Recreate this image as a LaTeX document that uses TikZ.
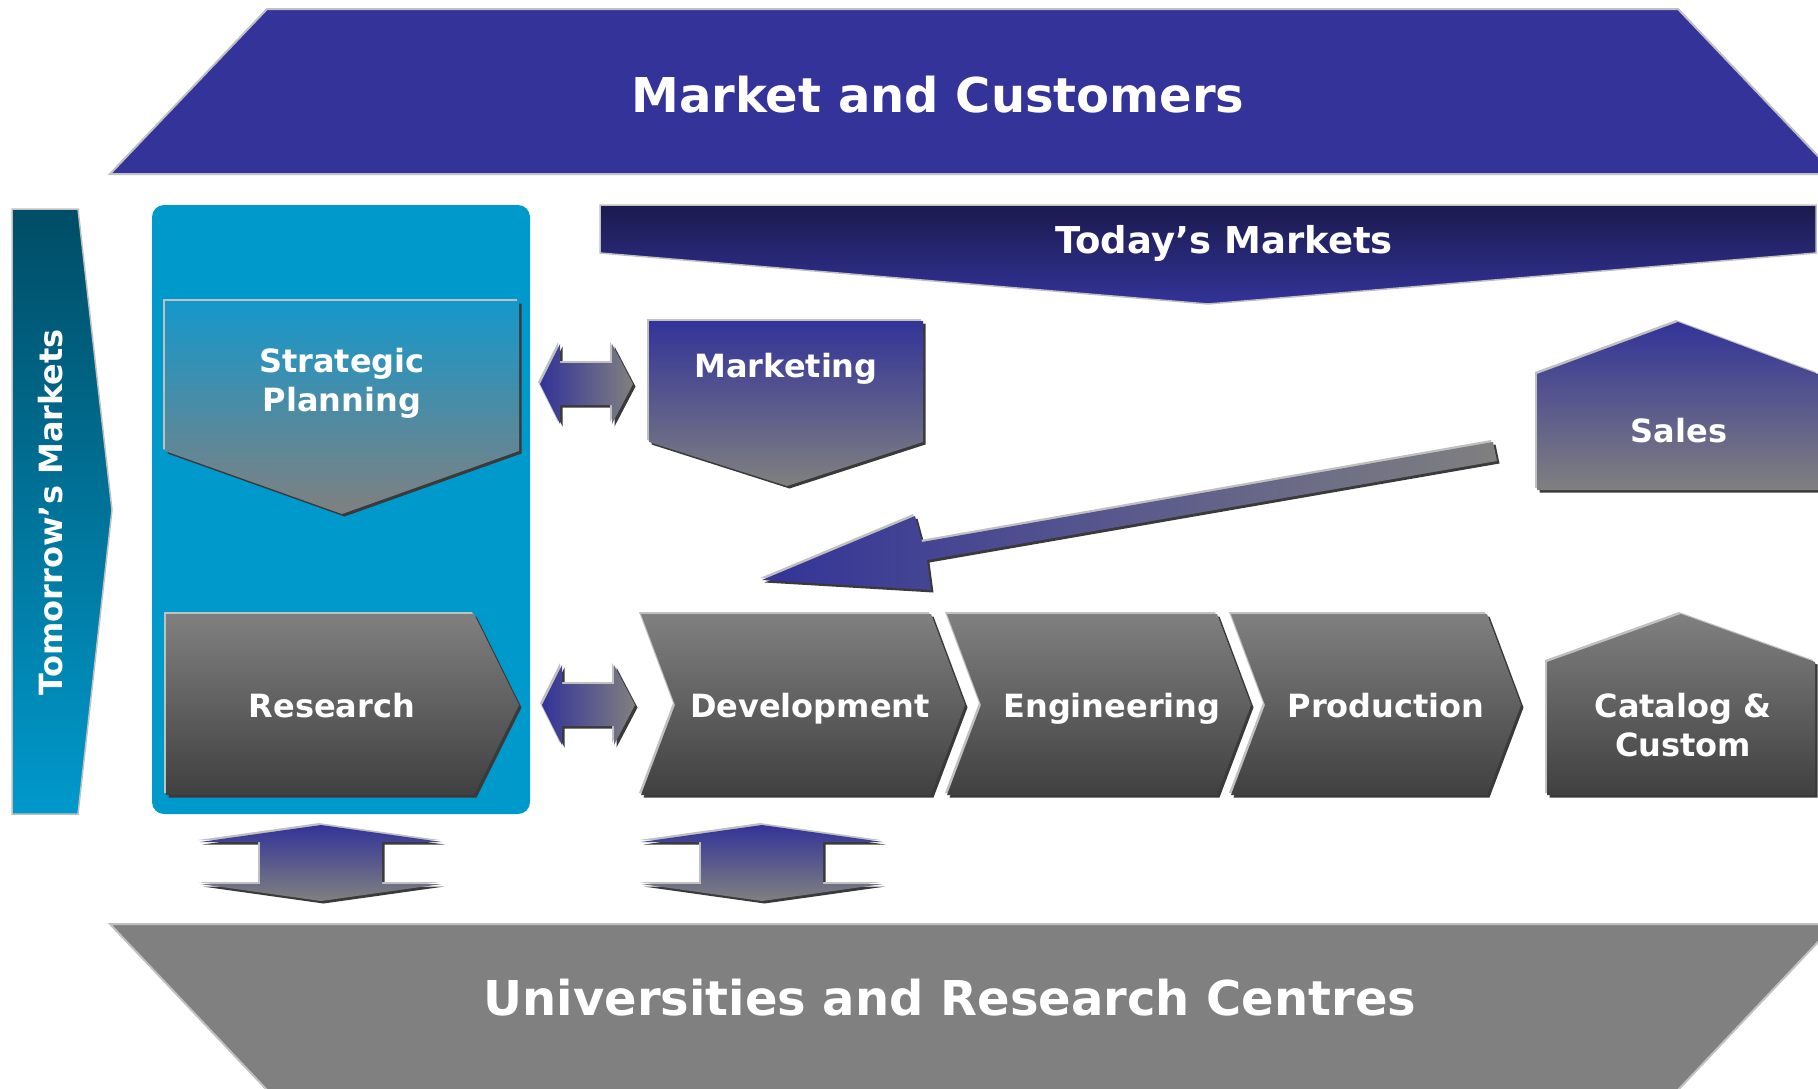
\documentclass[tikz,border=0pt]{standalone}
\usepackage{fontspec}
\setmainfont{DejaVu Sans}
\definecolor{mktBlue}{HTML}{333399}
\definecolor{navyDark}{HTML}{1B1A4E}
\definecolor{tealTop}{HTML}{004D66}
\definecolor{tealBox}{HTML}{0099CC}
\definecolor{spTop}{HTML}{1598CB}
\definecolor{greyMid}{HTML}{808080}
\definecolor{greyDark}{HTML}{404040}
\definecolor{edgeLight}{HTML}{C0C0C0}
\definecolor{edgeDark}{HTML}{3A3A3A}
\tikzstyle{bevel} = [preaction={fill=edgeDark,transform canvas={xshift=2.5pt,yshift=-2.5pt}},preaction={fill=edgeLight,transform canvas={xshift=-2pt,yshift=2pt}}]
\tikzstyle{greyBox} = [bevel,top color=greyMid,bottom color=greyDark]
\tikzstyle{blueBox} = [bevel,top color=mktBlue,bottom color=greyMid]
\tikzstyle{boxText} = [text=white,font=\bfseries\fontsize{32}{39}\selectfont,align=center]
\tikzstyle{bigText} = [text=white,font=\bfseries\fontsize{48}{58}\selectfont]

\begin{document}
\begin{tikzpicture}[x=1pt,y=-1pt]
	\useasboundingbox (0,0) rectangle (1818,1088);
	\clip (0,0) rectangle (1818,1088);
	% outer bands
	\path[fill=mktBlue,draw=edgeLight,line width=2pt] (267,9) -- (1678,9) -- (1835,174) -- (110,174) -- cycle;
	\path[fill=greyMid,draw=edgeLight,line width=2pt] (110,924) -- (1835,924) -- (1678,1090) -- (267,1090) -- cycle;
	\path[top color=navyDark,bottom color=mktBlue,draw=edgeLight,line width=1.5pt] (600,205) -- (1816,205) -- (1816,253) -- (1208,304) -- (600,253) -- cycle;
	\path[top color=tealTop,bottom color=tealBox,draw=edgeLight,line width=1.5pt] (12,209) -- (78,209) -- (112,510) -- (78,814) -- (12,814) -- cycle;
	\path[fill=tealBox,rounded corners=12pt] (152,205) rectangle (530,814);
	% boxes
	\path[bevel,top color=spTop,bottom color=greyMid] (165,301) -- (519,301) -- (519,451) -- (342,514) -- (165,451) -- cycle;
	\path[blueBox] (649,321) -- (923,321) -- (923,442) -- (787,486) -- (649,442) -- cycle;
	\path[blueBox] (1537,490) -- (1537,374) -- (1678,322) -- (1818,374) -- (1818,490) -- cycle;
	\path[greyBox] (166,614) -- (474,614) -- (519,705) -- (474,795) -- (166,795) -- cycle;
	\foreach \xl/\xr in {641/931,947/1217,1231/1487}
		\path[greyBox] (\xl,614) -- (\xr,614) -- (\xr+34,705) -- (\xr,795) -- (\xl,795) -- (\xl+34,705) -- cycle;
	\path[greyBox] (1547,795) -- (1547,662) -- (1681,614) -- (1815,662) -- (1815,795) -- cycle;
	% block arrows
	\foreach \yc/\xa in {384/540,705/542}
		\path[bevel,left color=mktBlue,right color=greyMid] (\xa,\yc) -- (\xa+20,\yc-40) -- (\xa+20,\yc-21) -- (\xa+72,\yc-21) -- (\xa+72,\yc-40) -- (\xa+93,\yc) -- (\xa+72,\yc+40) -- (\xa+72,\yc+21) -- (\xa+20,\yc+21) -- (\xa+20,\yc+40) -- cycle;
	\foreach \xc in {321,762}
		\path[bevel,top color=mktBlue,bottom color=greyMid] (\xc,825) -- (\xc+121,842) -- (\xc+61,842) -- (\xc+61,884) -- (\xc+121,884) -- (\xc,901) -- (\xc-121,884) -- (\xc-61,884) -- (\xc-61,842) -- (\xc-121,842) -- cycle;
	\path[bevel,left color=mktBlue,right color=greyMid] (1493,442) -- (922,542) -- (915,516) -- (762,580) -- (931,590) -- (927,560) -- (1497,461) -- cycle;
	% labels
	\node[bigText,anchor=base] (market) at (938,112) {Market and Customers};
	\node[bigText,anchor=base] (univ) at (950,1015) {Universities and Research Centres};
	\node[boxText,font=\bfseries\fontsize{37}{44}\selectfont,anchor=base] (today) at (1224,253) {Today’s Markets};
	\node[boxText,anchor=base,rotate=90] (tomorrow) at (62,512) {Tomorrow’s Markets};
	\node[boxText] (strategic) at (342,383) {Strategic\\Planning};
	\node[boxText,anchor=base] (marketing) at (786,377) {Marketing};
	\node[boxText,anchor=base] (sales) at (1679,442) {Sales};
	\node[boxText,anchor=base] (research) at (332,717) {Research};
	\node[boxText,anchor=base] (development) at (810,717) {Development};
	\node[boxText,anchor=base] (engineering) at (1112,717) {Engineering};
	\node[boxText,anchor=base] (production) at (1386,717) {Production};
	\node[boxText] (catalog) at (1683,725) {Catalog \&\\Custom};
\end{tikzpicture}
\end{document}
